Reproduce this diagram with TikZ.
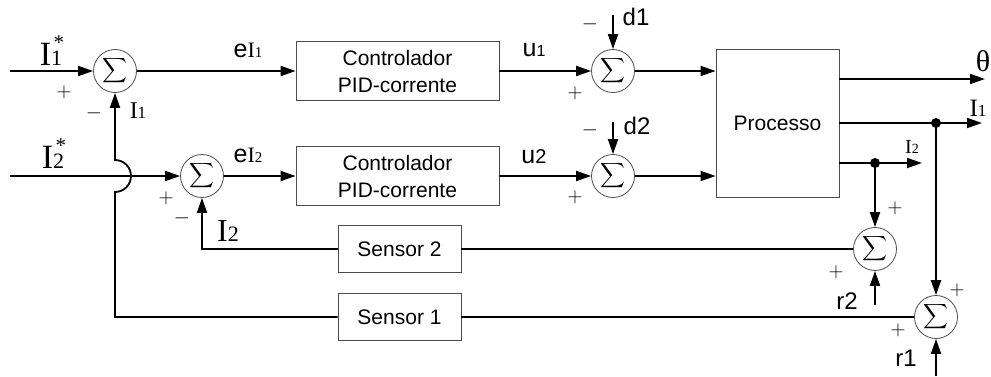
\documentclass[tikz,border=0pt]{standalone}
\usepackage{amsmath}
\usepackage{fontspec}
\setmainfont{Liberation Sans}
\newfontfamily\serf{Liberation Serif}
\usetikzlibrary{arrows.meta}
\newcommand{\myfs}[1]{\fontsize{#1}{#1}\selectfont}
\newcommand{\sig}{\myfs{19}$\displaystyle\sum$}
\newcommand{\Istar}[1]{{\serf\myfs{34}I\myfs{22}#1\llap{\raisebox{16pt}{\myfs{21}*}\kern-2pt}}}
\newcommand{\Ilab}[3]{{\serf\myfs{#1}I\myfs{#2}#3}}
\tikzset{
  ln/.style={line width=1.8pt},
  lnb/.style={line width=1.4pt},
  arr/.style={ln,-{Triangle[length=15pt,width=10pt]}},
  sumn/.style={circle,draw=black!70,line width=0.8pt,minimum size=43pt,inner sep=0pt,fill=white},
  blk/.style={draw=black!70,line width=0.8pt,inner sep=0pt,align=center,font=\fontsize{21}{27}\selectfont},
  dot/.style={circle,fill=black,minimum size=10pt,inner sep=0pt},
  sgn/.style={inner sep=0pt,font=\myfs{21}},
  lab/.style={inner sep=0pt}
}
\begin{document}
\begin{tikzpicture}[x=1pt,y=1pt]
\useasboundingbox (0,0) rectangle (991,376);
% blocks
\node[sumn] (s1) at (115,305) {\sig};
\node[sumn] (s2) at (202,200) {\sig};
\node[blk,minimum width=203pt,minimum height=59pt] (c1) at (397.5,305) {Controlador\\PID-corrente};
\node[blk,minimum width=203pt,minimum height=59pt] (c2) at (397.5,200) {Controlador\\PID-corrente};
\node[sumn] (s3) at (613,305) {\sig};
\node[sumn] (s4) at (613,200) {\sig};
\node[blk,minimum width=123pt,minimum height=148pt] (P) at (777.5,253) {Processo};
\node[sumn] (s5) at (875,127) {\sig};
\node[sumn] (s6) at (936,59) {\sig};
\node[blk,minimum width=123pt,minimum height=47pt] (sn2) at (399.5,127) {Sensor 2};
\node[blk,minimum width=123pt,minimum height=47pt] (sn1) at (399.5,59) {Sensor 1};
% coordinates
\coordinate (in1) at (10,305);
\coordinate (in2) at (10,200);
\coordinate (dd1) at (613,361);
\coordinate (dd2) at (613,254);
\coordinate (rr2) at (875,71);
\coordinate (rr1) at (936,0);
\coordinate (oth) at (985,297);
\coordinate (oI1) at (982,253);
\coordinate (oI2) at (922,213);
\coordinate (jmp) at (115,184);
% connectors
\draw[arr] (in1) -- (s1);
\draw[arr] (in2) -- (s2);
\draw[arr] (s1) -- (c1);
\draw[arr] (s2) -- (c2);
\draw[arr] (c1) -- (s3);
\draw[arr] (c2) -- (s4);
\draw[arr] (s3) -- (s3 -| P.west);
\draw[arr] (s4) -- (s4 -| P.west);
\draw[arr] (dd1) -- (s3);
\draw[arr] (dd2) -- (s4);
\draw[arr] (P.east |- oth) -- (oth);
\draw[arr] (P.east) -- (oI1);
\draw[arr] (P.east |- oI2) -- (oI2);
\draw[arr] (936,253) -- (s6);
\draw[arr] (875,213) -- (s5);
\draw[arr] (rr2) -- (s5);
\draw[arr] (rr1) -- (s6);
\draw[lnb] (s5) -- (sn2);
\draw[arr] (sn2) -| (s2);
\draw[lnb] (s6) -- (sn1);
\draw[arr] (sn1) -| (jmp) arc[start angle=-90,end angle=90,radius=16] -- (s1);
\node[dot] (dA) at (936,253) {};
\node[dot] (dB) at (875,213) {};
% labels
\node[lab] (lI1s) at (51,325) {\Istar{1}};
\node[lab] (lI2s) at (53,222) {\Istar{2}};
\node[sgn] (p1) at (64,284) {$+$};
\node[sgn] (m1) at (94,263) {$-$};
\node[lab] (lI1) at (138,265) {\Ilab{24}{17}{1}};
\node[lab] (le1) at (248,326) {\myfs{25}e\Ilab{22}{15}{1}};
\node[lab] (le2) at (248,221) {\myfs{25}e\Ilab{22}{15}{2}};
\node[sgn] (p2) at (166,178) {$+$};
\node[sgn] (m2) at (182,158) {$-$};
\node[lab] (lI2) at (228,145) {\Ilab{32}{22}{2}};
\node[lab] (lu1) at (534,326) {\myfs{25}u\myfs{16}1};
\node[lab] (lu2) at (534,219) {\myfs{25}u\myfs{20}2};
\node[sgn] (m3) at (590,352) {$-$};
\node[lab] (ld1) at (636,359) {\myfs{24}d1};
\node[sgn] (p3) at (575,283) {$+$};
\node[sgn] (m4) at (590,246) {$-$};
\node[lab] (ld2) at (637,250) {\myfs{24}d2};
\node[sgn] (p4) at (575,179) {$+$};
\node[lab] (lth) at (983,315) {\serf\myfs{30}θ};
\node[lab] (lo1) at (978,268) {\Ilab{25}{17}{1}};
\node[lab] (lo2) at (912,229) {\Ilab{20}{14}{2}};
\node[sgn] (p5) at (895,168) {$+$};
\node[sgn] (p6) at (836,104) {$+$};
\node[lab] (lr2) at (847,75) {\myfs{24}r2};
\node[sgn] (p7) at (957,86) {$+$};
\node[sgn] (p8) at (898,46) {$+$};
\node[lab] (lr1) at (906,18) {\myfs{24}r1};
\end{tikzpicture}
\end{document}
